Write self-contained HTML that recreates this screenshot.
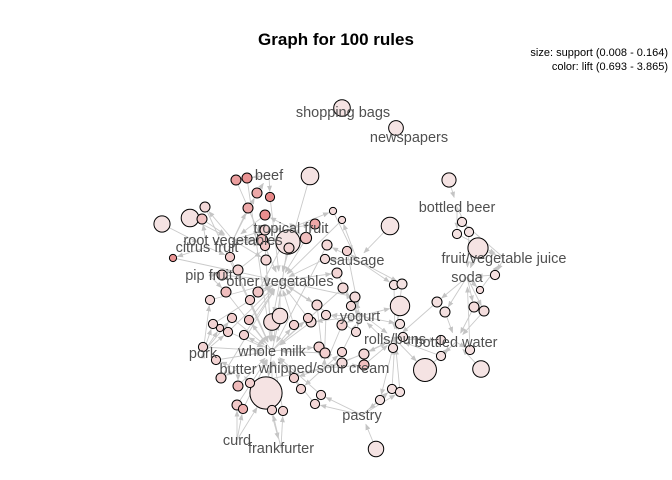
<!DOCTYPE html>
<html><head><meta charset="utf-8"><style>
body{margin:0;background:#fff}
svg{display:block;font-family:"Liberation Sans",sans-serif}
</style></head><body>
<svg id="g" width="672" height="480" viewBox="0 0 672 480">
<defs><marker id="ah" viewBox="0 0 10 10" refX="9" refY="5" markerWidth="7" markerHeight="7" orient="auto"><path d="M0,1 L10,5 L0,9 z" fill="#c4c4c4"/></marker></defs>
<text x="336" y="45" text-anchor="middle" font-size="17" font-weight="bold" fill="#000">Graph for 100 rules</text>
<text x="668" y="56" text-anchor="end" font-size="11" fill="#000">size: support (0.008 - 0.164)</text>
<text x="668" y="70" text-anchor="end" font-size="11" fill="#000">color: lift (0.693 - 3.865)</text>
<g id="edges"></g><g id="nodes"></g><g id="labels"></g>
</svg>
<script>
const itemNames=["shopping bags","newspapers","beef","bottled beer","tropical fruit","root vegetables","citrus fruit","fruit/vegetable juice","sausage","soda","pip fruit","other vegetables","yogurt","rolls/buns","bottled water","pork","whole milk","butter","whipped/sour cream","pastry","curd","frankfurter"];
const itemPos=[[343,112],[409,137],[269,175],[457,207],[291,228],[233,240],[207,247],[504,258],[357,260],[467,277],[209,275],[280,281],[360,316],[395,339],[456,342],[203,353],[272,351],[238,369],[324,368],[362,415],[237,440],[281,448]];
const ruleSupport=[.03,.022,.02,.035,.035,.028,.08,.035,.05,.045,.03,.07,.03,.164,.025,.025,.01,.01,.01,.009,.01,.01,.01,.012,.012,.01,.01,.01,.008,.009,.01,.01,.01,.01,.009,.01,.008,.008,.01,.009,.009,.01,.01,.01,.009,.01,.009,.01,.009,.01,.01,.01,.01,.01,.009,.009,.009,.009,.009,.009,.009,.01,.01,.01,.009,.01,.01,.01,.009,.009,.008,.009,.009,.009,.01,.01,.009,.009,.009,.01,.009,.009,.009,.009,.009,.009,.009,.009,.009,.009,.009,.01,.009,.009,.009,.009,.008,.009,.009,.009];
const ruleLift=[1.1,1.0,1.1,1.2,1.2,1.1,1.1,1.0,1.15,1.1,1.6,1.1,1.05,1.1,1.1,1.4,3.2,3.4,3.0,3.6,3.0,3.5,3.0,2.5,2.4,1.8,1.7,2.4,3.4,2.2,2.0,2.0,2.5,1.8,2.3,1.9,1.6,1.6,1.7,1.6,2.0,1.8,1.7,1.6,1.7,1.8,1.7,1.6,1.4,1.2,1.3,1.3,1.5,1.5,1.2,1.2,1.4,1.2,1.2,1.3,1.3,2.0,2.0,2.0,1.8,1.6,2.5,1.8,1.3,1.8,2.0,2.0,2.1,1.9,2.0,2.6,2.0,2.0,2.0,2.2,2.8,1.9,1.9,2.0,1.8,1.7,1.7,1.3,1.3,2.0,2.1,2.3,2.4,1.9,1.9,1.6,1.5,1.4,1.3,1.2];
const ruleItems=[[0],[1],[3],[11],[5],[6],[4,16],[8],[7,9],[12,13],[11,16],[13,14],[14],[16,20,21],[19],[16,11],[2,11],[2,16],[5,2],[2,11],[5,11],[4,5],[4,11],[4,5],[5,11],[5,4],[5,16],[6,5],[6,11],[6,16],[10,11],[10,4],[10,16],[5,16],[5,16],[4,11],[4,8],[8,11],[8,16],[8,11],[8,12],[11,12],[12,16],[12,11],[12,13],[11,18],[12,18],[12,16],[8,13],[8,13],[9,13],[9,14],[9,14],[9,14],[3,7],[3,9],[7,9],[12,13],[13,14],[13,14],[14,13],[12,18],[16,18],[18,16],[18,12],[18,13],[18,13],[13,18],[13,12],[15,11],[15,16],[15,11],[15,16],[17,16],[17,11],[17,16],[18,17],[16,11],[16,11],[20,16],[20,16],[21,16],[21,16],[18,16],[18,16],[19,16],[19,16],[19,13],[19,13],[16,11],[11,16],[11,4],[16,11],[15,11],[15,16],[12,11],[9,7],[14,9],[7,3],[13,19]];
const ruleLayout=[[342,108],[396,128],[449,180],[310,176],[190,218],[162,224],[288,242],[390,226],[478,248],[400,306],[272,322],[425,370],[481,369],[266,393],[376,449],[280,316],[236,180],[247,178],[257,193],[270,197],[248,208],[265,215],[315,224],[306,238],[262,240],[265,230],[205,207],[202,219],[173,258],[230,257],[222,275],[238,270],[226,292],[266,260],[265,246],[289,248],[333,211],[342,220],[327,245],[325,259],[347,251],[337,273],[343,288],[355,297],[351,306],[317,305],[326,315],[311,322],[394,285],[402,284],[437,302],[445,312],[474,307],[484,311],[457,234],[469,232],[495,275],[400,324],[403,337],[441,340],[441,356],[342,325],[319,347],[325,353],[342,352],[342,363],[364,365],[364,354],[393,348],[210,300],[220,328],[228,332],[232,318],[216,360],[221,378],[238,386],[250,383],[294,325],[308,318],[237,405],[243,409],[272,410],[283,411],[294,378],[301,389],[321,395],[315,404],[392,389],[400,392],[244,335],[250,300],[258,292],[249,320],[213,324],[203,347],[356,332],[480,290],[470,350],[462,222],[380,400]];
const NS="http://www.w3.org/2000/svg";
const E=document.getElementById('edges'),N=document.getElementById('nodes'),L=document.getElementById('labels');
function rad(s){return 3.6+Math.sqrt((s-0.008)/(0.164-0.008))*12.5;}
function col(l){let t=Math.max(0,Math.min(1,(l-0.693)/(3.865-0.693)));t=Math.pow(t,1.8);const r=Math.round(245-t*15),g=Math.round(230-t*110),b=Math.round(230-t*110);return `rgb(${r},${g},${b})`;}
function line(x1,y1,x2,y2,cut){const dx=x2-x1,dy=y2-y1,d=Math.hypot(dx,dy)||1;const ex=x2-dx/d*cut,ey=y2-dy/d*cut;
 const l=document.createElementNS(NS,'line');l.setAttribute('x1',x1);l.setAttribute('y1',y1);l.setAttribute('x2',ex);l.setAttribute('y2',ey);
 l.setAttribute('stroke','#cacaca');l.setAttribute('stroke-width','0.9');l.setAttribute('marker-end','url(#ah)');
 
 
 E.appendChild(l);}
ruleSupport.forEach((s,i)=>{
 const [x,y]=ruleLayout[i],r=rad(s),its=ruleItems[i];
 its.forEach((it,k)=>{const [ix,iy]=itemPos[it];
  if(k<its.length-1){line(ix,iy,x,y,r+1);}else{line(x,y,ix,iy,10);}
 });
 const c=document.createElementNS(NS,'circle');c.setAttribute('cx',x);c.setAttribute('cy',y);c.setAttribute('r',r);
 c.setAttribute('fill',col(ruleLift[i]));c.setAttribute('stroke','#000');c.setAttribute('stroke-width','1');
 
 
 N.appendChild(c);
});
itemNames.forEach((n,i)=>{
 const t=document.createElementNS(NS,'text');t.setAttribute('x',itemPos[i][0]);t.setAttribute('y',itemPos[i][1]+5);
 t.setAttribute('text-anchor','middle');t.setAttribute('font-size','14.5');t.setAttribute('fill','#505050');t.textContent=n;
 
 
 L.appendChild(t);
});
</script>
</body></html>
